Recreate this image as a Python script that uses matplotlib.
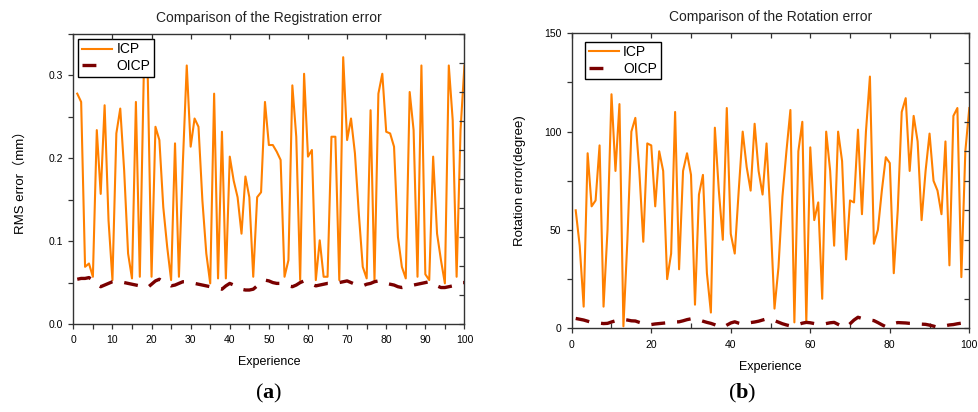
import matplotlib

matplotlib.use("Agg")
import matplotlib.pyplot as plt
import numpy as np
from matplotlib.lines import Line2D
from matplotlib.ticker import MultipleLocator

plt.rcParams["font.family"] = ["Liberation Sans", "Noto Sans CJK SC"]
plt.rcParams["mathtext.fontset"] = "custom"
plt.rcParams["mathtext.rm"] = "Liberation Serif"
plt.rcParams["mathtext.bf"] = "Liberation Serif:bold"
plt.rcParams["lines.scale_dashes"] = False

ICP_COLOR = "#ff8000"
OICP_COLOR = "#7a0000"
AXIS_COLOR = "#333333"

experience = np.arange(1, 101)

rms_icp = [
    0.278, 0.268, 0.069, 0.073, 0.057, 0.234, 0.157, 0.264, 0.125, 0.053,
    0.230, 0.260, 0.185, 0.085, 0.055, 0.268, 0.057, 0.298, 0.306, 0.057,
    0.238, 0.222, 0.141, 0.093, 0.053, 0.218, 0.057, 0.194, 0.312, 0.214,
    0.248, 0.238, 0.149, 0.085, 0.049, 0.278, 0.055, 0.232, 0.055, 0.202,
    0.173, 0.153, 0.109, 0.178, 0.153, 0.057, 0.153, 0.159, 0.268, 0.216,
    0.216, 0.208, 0.198, 0.057, 0.077, 0.288, 0.226, 0.053, 0.302, 0.202,
    0.210, 0.053, 0.101, 0.057, 0.057, 0.226, 0.226, 0.053, 0.322, 0.222,
    0.248, 0.206, 0.133, 0.069, 0.055, 0.258, 0.053, 0.278, 0.302, 0.232,
    0.230, 0.214, 0.105, 0.069, 0.055, 0.280, 0.234, 0.057, 0.312, 0.060,
    0.053, 0.202, 0.109, 0.077, 0.049, 0.312, 0.246, 0.057, 0.234, 0.312,
]
rms_oicp = [
    0.054, 0.055, 0.055, 0.056, 0.053, 0.048, 0.045, 0.047, 0.049, 0.051,
    0.052, 0.051, 0.050, 0.049, 0.048, 0.047, 0.046, 0.045, 0.044, 0.048,
    0.052, 0.054, 0.051, 0.049, 0.046, 0.047, 0.049, 0.051, 0.051, 0.050,
    0.049, 0.048, 0.047, 0.046, 0.045, 0.044, 0.043, 0.042, 0.046, 0.049,
    0.047, 0.044, 0.042, 0.041, 0.041, 0.042, 0.046, 0.050, 0.053, 0.052,
    0.050, 0.049, 0.049, 0.048, 0.046, 0.045, 0.047, 0.050, 0.052, 0.050,
    0.048, 0.046, 0.047, 0.048, 0.049, 0.049, 0.049, 0.050, 0.051, 0.052,
    0.050, 0.048, 0.047, 0.046, 0.048, 0.049, 0.051, 0.052, 0.051, 0.049,
    0.048, 0.047, 0.045, 0.044, 0.045, 0.046, 0.047, 0.048, 0.049, 0.050,
    0.051, 0.049, 0.046, 0.044, 0.044, 0.045, 0.046, 0.048, 0.050, 0.050,
]
rot_icp = [
    60, 42, 11, 89, 62, 65, 93, 11, 50, 119,
    80, 114, 1, 45, 100, 107, 80, 44, 94, 93,
    62, 90, 80, 25, 38, 110, 30, 80, 89, 78,
    12, 68, 78, 28, 8, 102, 70, 45, 112, 48,
    38, 70, 100, 82, 70, 104, 80, 68, 94, 56,
    10, 31, 67, 90, 111, 3, 90, 105, 3, 92,
    55, 64, 15, 100, 80, 42, 100, 85, 35, 65,
    64, 101, 58, 100, 128, 43, 50, 70, 87, 84,
    28, 60, 110, 117, 80, 108, 95, 55, 80, 99,
    75, 70, 58, 95, 32, 108, 112, 26, 90, 112,
]
rot_oicp = [
    5.0, 4.6, 4.2, 3.6, 3.0, 2.8, 2.6, 2.4, 2.5, 3.2,
    3.8, 4.4, 4.5, 4.2, 3.8, 3.7, 3.0, 2.4, 1.8, 1.9,
    2.2, 2.4, 2.6, 2.8, 3.0, 3.2, 3.3, 3.8, 4.4, 4.8,
    4.9, 4.3, 3.6, 3.0, 2.5, 1.8, 1.0, 0.4, 1.6, 2.7,
    3.3, 2.6, 2.1, 2.5, 2.9, 3.2, 3.6, 4.2, 4.8, 4.9,
    3.9, 3.1, 2.3, 1.7, 1.2, 1.4, 2.0, 2.6, 3.0, 2.8,
    2.4, 2.1, 2.0, 2.4, 2.8, 3.0, 2.0, 1.0, 0.5, 2.3,
    4.2, 5.6, 5.0, 4.6, 4.2, 3.9, 2.9, 1.8, 0.8, 1.6,
    2.4, 2.9, 2.8, 2.7, 2.5, 2.4, 2.2, 2.1, 2.0, 1.6,
    1.1, 0.5, 0.8, 1.3, 1.7, 1.9, 2.3, 2.6, 2.9, 3.0,
]


def draw_panel(ax, icp, oicp, ymax, ymajor, yminor, xmajor, xminor, yfmt,
               title, ylabel, ylabel_x, legend_anchor):
    ax.plot(experience, icp, color=ICP_COLOR, lw=1.5)
    ax.plot(experience, oicp, color=OICP_COLOR, lw=2.4, dashes=(10, 8.6))

    ax.set_xlim(0, 100)
    ax.set_ylim(0, ymax)
    ax.xaxis.set_major_locator(MultipleLocator(xmajor))
    ax.xaxis.set_minor_locator(MultipleLocator(xminor))
    ax.yaxis.set_major_locator(MultipleLocator(ymajor))
    ax.yaxis.set_minor_locator(MultipleLocator(yminor))
    ax.yaxis.set_major_formatter(yfmt)
    ax.tick_params(which="both", direction="out", length=3.6, width=0.9,
                   colors=AXIS_COLOR, labelsize=7.5, labelcolor="black")
    ax.tick_params(axis="x", pad=4.5)
    ax.tick_params(axis="y", pad=4)
    for sp in ax.spines.values():
        sp.set_color(AXIS_COLOR)
        sp.set_linewidth(1.0)

    # inward ticks along the top and right frame
    top = ax.twiny()
    top.set_xlim(0, 100)
    top.xaxis.set_major_locator(MultipleLocator(10))
    top.tick_params(axis="x", direction="in", length=3.6, width=0.9,
                    colors=AXIS_COLOR, labeltop=False)
    right = ax.twinx()
    right.set_ylim(0, 10)
    right.yaxis.set_major_locator(MultipleLocator(1))
    right.tick_params(axis="y", direction="in", length=3.6, width=0.9,
                      colors=AXIS_COLOR, labelright=False)
    for extra in (top, right):
        for sp in extra.spines.values():
            sp.set_visible(False)

    ax.set_title(title, fontsize=10, color="#222222", pad=8.5)
    ax.set_xlabel("Experience", fontsize=9)
    ax.xaxis.set_label_coords(0.5, -0.11)
    ax.set_ylabel(ylabel, fontsize=9.5)
    ax.yaxis.set_label_coords(ylabel_x, 0.5)

    handles = [
        Line2D([], [], color=ICP_COLOR, lw=1.5),
        Line2D([], [], color=OICP_COLOR, lw=2.4, dashes=(10, 30)),
    ]
    leg = ax.legend(handles, ["ICP", "OICP"], loc="upper left",
                    bbox_to_anchor=legend_anchor, borderaxespad=0,
                    fontsize=10, handlelength=2.2, handletextpad=0.3,
                    borderpad=0.25, labelspacing=0.2, fancybox=False,
                    framealpha=1, edgecolor="black")
    leg.get_frame().set_linewidth(1.0)
    leg.set_zorder(5)


fig = plt.figure(figsize=(9.79, 4.12), dpi=100)
ax_a = fig.add_axes([0.0749, 0.2136, 0.3995, 0.7039])
ax_b = fig.add_axes([0.5840, 0.2032, 0.4061, 0.7160])

draw_panel(ax_a, rms_icp, rms_oicp, 0.35, 0.1, 0.05, 10, 5, "{x:.1f}",
           "Comparison of the Registration error", "RMS error（mm）",
           -0.118, (0.013, 0.983))
draw_panel(ax_b, rot_icp, rot_oicp, 150, 50, 25, 20, 10, "{x:.0f}",
           "Comparison of the Rotation error", "Rotation error(degree)",
           -0.115, (0.0335, 0.9715))
ax_b.tick_params(axis="x", which="minor", direction="in")

fig.text(0.274, 0.046, r"($\mathbf{a}$)", ha="center", va="center",
         fontsize=16, family="Liberation Serif")
fig.text(0.758, 0.046, r"($\mathbf{b}$)", ha="center", va="center",
         fontsize=16, family="Liberation Serif")

fig.savefig("out.png", dpi=100)
